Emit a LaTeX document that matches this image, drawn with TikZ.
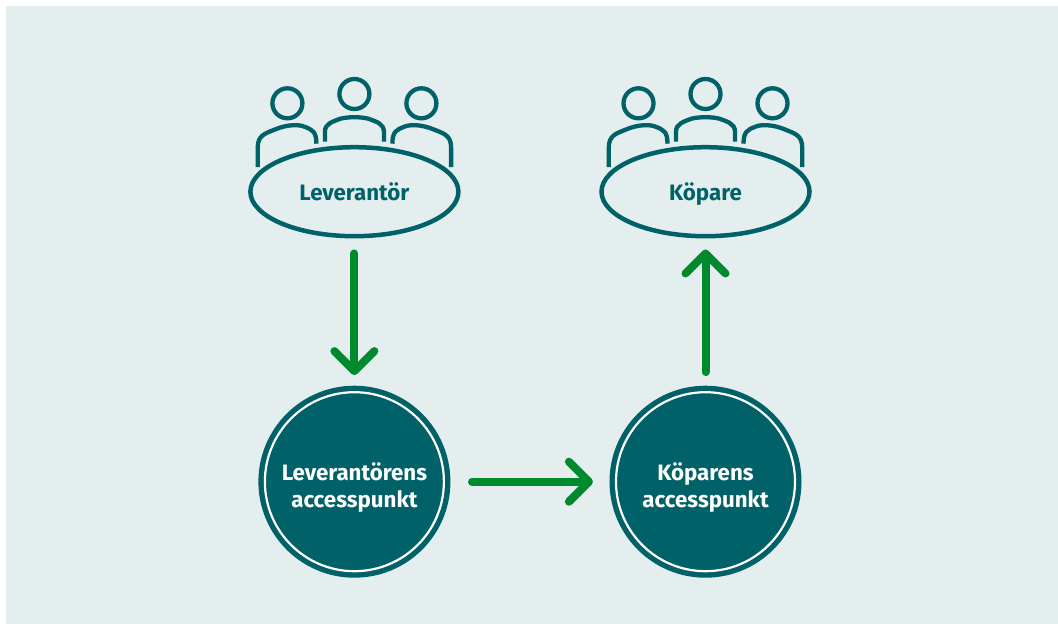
\documentclass[tikz,border=0pt]{standalone}
\usepackage{fontspec}
\setsansfont{Fira Sans}
\usetikzlibrary{arrows.meta,shapes.geometric}
\definecolor{panelbg}{HTML}{E4EEEE}
\definecolor{tealdark}{HTML}{006168}
\definecolor{arrowgreen}{HTML}{008A2E}
\tikzset{
  party/.style={shape=ellipse, draw=tealdark, line width=4.5pt, inner sep=0pt,
    minimum width=208pt, minimum height=89pt, text=tealdark,
    text height=21pt, text depth=3.4pt,
    font=\sffamily\bfseries\fontsize{22.3}{26}\selectfont},
  access/.style={shape=circle, fill=tealdark, draw=white, line width=2.2pt, inner sep=0pt,
    minimum size=179pt, text=white, align=center,
    text height=52pt, text depth=0pt,
    preaction={draw=tealdark, line width=13pt},
    font=\sffamily\bfseries\fontsize{22.3}{27.7}\selectfont},
  flow/.style={draw=arrowgreen, line width=8pt, line cap=round,
    -{Straight Barb[round, length=20pt, width=40pt]}},
  person/.style={draw=tealdark, line width=4.3pt}
}
\begin{document}
\begin{tikzpicture}[x=1pt, y=-1pt]
  \useasboundingbox (0,0) rectangle (1058,624);
  \fill[panelbg] (6,6) rectangle (1058,624);

  % people round the tables
  \foreach \cx in {354.4, 705.5} {
    \begin{scope}[shift={(\cx,191.7)}]
      \foreach \hx/\hy in {-67/-88.4, 0/-97.7, 67/-88.4}
        \draw[person] (\hx,\hy) circle [radius=15];
      \draw[person] (-96.7,-24.7) -- (-96.7,-44) .. controls (-96.7,-56) and (-90,-58) .. (-80,-62)
        .. controls (-66,-68) and (-54,-67) .. (-50,-65) .. controls (-42,-62) and (-38,-60) .. (-38,-48);
      \draw[person] (96.7,-24.7) -- (96.7,-44) .. controls (96.7,-56) and (90,-58) .. (80,-62)
        .. controls (66,-68) and (54,-67) .. (50,-65) .. controls (42,-62) and (38,-60) .. (38,-48);
      \draw[person] (-29.5,-50) -- (-29.5,-60) .. controls (-29.5,-68) and (-22,-70) .. (-14,-73)
        .. controls (-6,-75) and (6,-75) .. (14,-73) .. controls (22,-70) and (29.5,-68) .. (29.5,-60) -- (29.5,-50);
    \end{scope}
  }

  \node[party] (supplier) at (354.4,191.7) {Leverantör};
  \node[party] (buyer)    at (705.5,191.7) {Köpare};
  \node[access] (supplierap) at (354.4,481.7) {Leverantörens\\accesspunkt};
  \node[access] (buyerap)    at (705.5,481.7) {Köparens\\accesspunkt};

  \draw[flow, shorten <=15pt, shorten >=16pt] (supplier) -- (supplierap);
  \draw[flow, shorten <=27pt, shorten >=22pt] (supplierap) -- (buyerap);
  \draw[flow, shorten <=19pt, shorten >=11pt] (buyerap) -- (buyer);
\end{tikzpicture}
\end{document}
